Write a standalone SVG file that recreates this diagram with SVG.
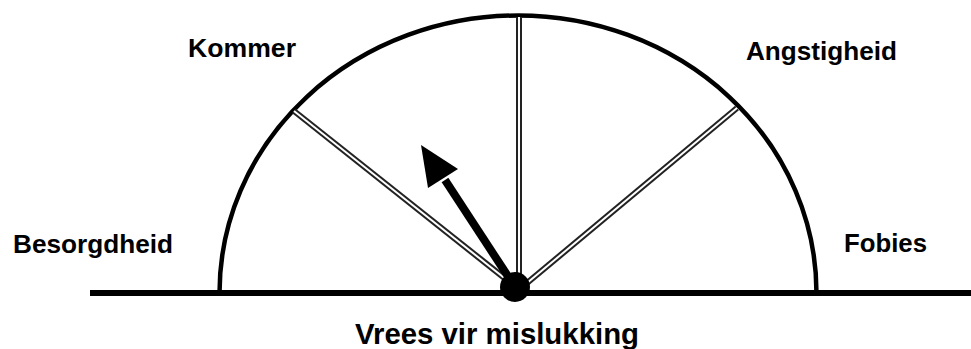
<svg xmlns="http://www.w3.org/2000/svg" width="971" height="349" viewBox="0 0 971 349">
<style>
.lbl{font-family:"Liberation Sans",Arial,sans-serif;font-weight:bold;font-size:26px;fill:#000}
.outer{stroke:#222;stroke-width:6;fill:none}
.inner{stroke:#fff;stroke-width:2;fill:none}
</style>
<rect width="971" height="349" fill="#fff"/>
<g id="base">
<path d="M219.5,293 A298.5,277.5 0 0 1 816.5,293" fill="#fff" stroke="#000" stroke-width="4.5"/>
<line x1="90" y1="293" x2="971" y2="293" stroke="#000" stroke-width="6"/>
</g>
<g id="connectors">
<g class="outer">
<line x1="517" y1="288" x2="294" y2="111"/>
<line x1="519" y1="288" x2="519" y2="17"/>
<line x1="521" y1="288" x2="737" y2="108"/>
</g>
<g class="inner">
<line x1="517" y1="288" x2="294" y2="111"/>
<line x1="519" y1="288" x2="519" y2="17"/>
<line x1="521" y1="288" x2="737" y2="108"/>
</g>
<line x1="515" y1="287" x2="445" y2="180" stroke="#000" stroke-width="8"/>
<polygon points="421,145 458,169 428,188" fill="#000"/>
</g>
<g id="pivot"><circle cx="515" cy="287" r="15" fill="#000"/></g>
<g id="n-besorgdheid"><text class="lbl" x="13" y="253" textLength="160" lengthAdjust="spacingAndGlyphs">Besorgdheid</text></g>
<g id="n-kommer"><text class="lbl" x="188" y="57" textLength="108" lengthAdjust="spacingAndGlyphs">Kommer</text></g>
<g id="n-angstigheid"><text class="lbl" x="746" y="60" textLength="151" lengthAdjust="spacingAndGlyphs">Angstigheid</text></g>
<g id="n-fobies"><text class="lbl" x="844" y="252" textLength="83" lengthAdjust="spacingAndGlyphs">Fobies</text></g>
<g id="n-vrees"><text class="lbl" x="355" y="344" style="font-size:29px" textLength="284" lengthAdjust="spacingAndGlyphs">Vrees vir mislukking</text></g>
</svg>
